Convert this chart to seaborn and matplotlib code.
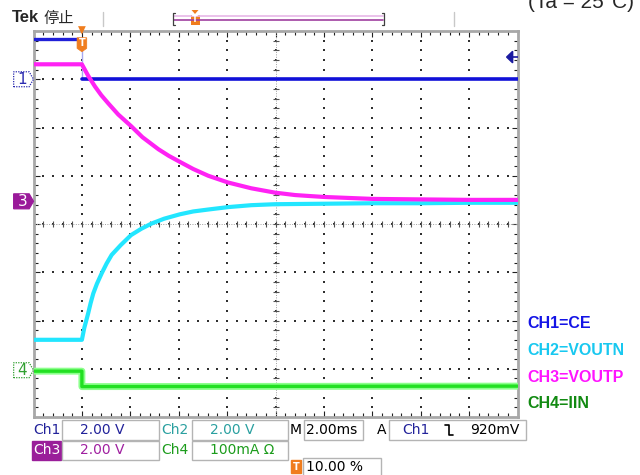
import numpy as np
import matplotlib.pyplot as plt
import seaborn as sns
from matplotlib.patches import Polygon, Rectangle
from matplotlib.lines import Line2D

# Screen is 10 x 8 divisions, 2 ms/div, trigger at 10 % -> time axis -2..18 ms
# Levels are read in screen divisions (0 = bottom edge, 8 = top edge)
ch1_time = [-2.0, 0.0, 0.0, 18.0]
ch1_level = [7.84, 7.84, 7.00, 7.00]

ch2_time = [-2.0, 0.0, 0.1, 0.26, 0.36, 0.47, 0.62, 0.82, 1.02, 1.23, 1.6, 2.03,
            2.45, 2.88, 3.4, 4.04, 4.6, 5.22, 6.04, 7.0, 7.98, 10.0, 12.0, 14.0,
            16.0, 18.0]
ch2_level = [1.60, 1.60, 1.85, 2.15, 2.36, 2.56, 2.76, 2.98, 3.18, 3.36, 3.56, 3.77,
             3.90, 4.01, 4.11, 4.20, 4.26, 4.30, 4.35, 4.39, 4.41, 4.42, 4.43, 4.43,
             4.44, 4.44]

ch3_time = [-2.0, 0.0, 0.25, 0.54, 0.8, 1.09, 1.5, 2.03, 2.5, 3.16, 3.6, 4.04,
            4.6, 5.22, 6.04, 7.0, 7.98, 8.81, 9.4, 10.02, 12.02, 14.01, 16.01, 18.0]
ch3_level = [7.31, 7.31, 7.08, 6.85, 6.67, 6.50, 6.27, 6.03, 5.80, 5.55, 5.41, 5.29,
             5.14, 5.00, 4.86, 4.74, 4.65, 4.60, 4.58, 4.56, 4.52, 4.51, 4.50, 4.50]

ch4_time = [-2.0, 0.0, 0.0, 18.0]
ch4_level = [0.95, 0.95, 0.63, 0.64]

ground_labels = ['1', '3', '4']
ground_levels = [7.00, 4.47, 0.97]
trigger_time = 0.0
trigger_level = 7.46

legend_labels = ['CH1=CE', 'CH2=VOUTN', 'CH3=VOUTP', 'CH4=IIN']
legend_colors = ['#1414e6', '#18c8f0', '#ff14ff', '#128a12']

sns.set_style('white')
plt.rcParams['font.family'] = ['DejaVu Sans', 'Noto Sans CJK SC']

W, H = 640, 475
fig = plt.figure(figsize=(6.4, 4.75), dpi=100)


def fx(px):
    return px / W


def fy(py):
    return 1 - py / H


ax = fig.add_axes([fx(33.5), fy(417), 484 / W, 386 / H])
ax.set_xlim(-2, 18)
ax.set_ylim(0, 8)
ax.set_xticks(np.arange(-2, 18.1, 2))
ax.set_yticks(np.arange(0, 8.1, 1))
ax.set_xticks(np.arange(-2, 18.1, 0.4), minor=True)
ax.set_yticks(np.arange(0, 8.1, 0.2), minor=True)
ax.tick_params(which='both', direction='in', top=True, right=True, bottom=True, left=True,
               labelbottom=False, labelleft=False, color='#202020', width=0.8)
ax.tick_params(which='major', length=4)
ax.tick_params(which='minor', length=3)
for s in ax.spines.values():
    s.set_color('#a8a8a8')
    s.set_linewidth(2)

# graticule: dots every 0.2 div on each division line
gx, gy = np.meshgrid(np.arange(0, 16.1, 2), np.arange(0.2, 8, 0.2))
ax.scatter(gx.ravel(), gy.ravel(), s=1.2, color='#303030', marker='s', linewidths=0, zorder=1)
gx, gy = np.meshgrid(np.arange(-1.6, 18, 0.4), np.arange(1, 7.1, 1))
ax.scatter(gx.ravel(), gy.ravel(), s=1.2, color='#303030', marker='s', linewidths=0, zorder=1)
# centre lines with small ticks
ax.axvline(8, color='#a0a0a0', lw=0.7, ls=(0, (1, 1.5)), zorder=1)
ax.axhline(4, color='#a0a0a0', lw=0.7, ls=(0, (1, 1.5)), zorder=1)
ty = np.arange(0.2, 8, 0.2)
ax.scatter(np.full_like(ty, 8), ty, marker='_', s=14, color='#505050', linewidths=0.8, zorder=1)
tx = np.arange(-1.6, 18, 0.4)
ax.scatter(tx, np.full_like(tx, 4), marker='|', s=14, color='#505050', linewidths=0.8, zorder=1)

# traces
sns.lineplot(x=ch1_time[:2], y=ch1_level[:2], ax=ax, color='#2020d8', lw=2.4, zorder=5)
sns.lineplot(x=ch1_time[1:3], y=ch1_level[1:3], ax=ax, color='#a8a8f0', lw=1, zorder=4,
             sort=False, estimator=None)
sns.lineplot(x=ch1_time[2:], y=ch1_level[2:], ax=ax, color='#1010d8', lw=2.6, zorder=5)
sns.lineplot(x=ch4_time, y=ch4_level, ax=ax, color='#8cff8c', lw=5, zorder=4,
             sort=False, estimator=None)
sns.lineplot(x=ch4_time, y=ch4_level, ax=ax, color='#22e022', lw=2.4, zorder=5,
             sort=False, estimator=None)
sns.lineplot(x=ch2_time, y=ch2_level, ax=ax, color='#22e6ff', lw=3, zorder=5,
             sort=False, estimator=None)
sns.lineplot(x=ch3_time, y=ch3_level, ax=ax, color='#ff22f4', lw=3, zorder=6,
             sort=False, estimator=None)
ax.set_xlabel('')
ax.set_ylabel('')

# channel ground markers on the left edge
marker_style = {
    '1': dict(face='white', edge='#2a2ab0', text='#2a2ab0'),
    '3': dict(face='#9a1a9a', edge='#9a1a9a', text='white'),
    '4': dict(face='white', edge='#30a030', text='#30a030'),
}
for lab, g in zip(ground_labels, ground_levels):
    st = marker_style[lab]
    pts = [(-2.82, g - 0.155), (-2.18, g - 0.155), (-2.0, g), (-2.18, g + 0.155), (-2.82, g + 0.155)]
    ax.add_patch(Polygon(pts, closed=True, facecolor=st['face'], edgecolor=st['edge'],
                         lw=0.9, ls=(0, (1, 1)) if st['face'] == 'white' else '-',
                         clip_on=False, zorder=7))
    ax.text(-2.46, g, lab, color=st['text'], fontsize=11, ha='center', va='center',
            clip_on=False, zorder=8)

# trigger position marker on top
ax.add_patch(Polygon([(trigger_time - 0.2, 7.86), (trigger_time + 0.2, 7.86),
                      (trigger_time + 0.2, 7.64), (trigger_time, 7.57), (trigger_time - 0.2, 7.64)],
                     closed=True, facecolor='#f07d1e', edgecolor='#f07d1e', lw=0.5, zorder=9))
ax.text(trigger_time, 7.76, 'T', color='white', fontsize=7, fontweight='bold',
        ha='center', va='center', zorder=10)
ax.add_patch(Polygon([(trigger_time - 0.16, 8.1), (trigger_time + 0.16, 8.1), (trigger_time, 7.93)],
                     closed=True, facecolor='#f07d1e', edgecolor='none', clip_on=False, zorder=9))

# trigger level arrow on the right
ax.add_patch(Polygon([(17.55, trigger_level), (17.8, trigger_level + 0.12), (17.8, trigger_level - 0.12)],
                     closed=True, facecolor='#1a1aa0', edgecolor='#1a1aa0', zorder=9))
ax.plot([17.8, 18.0], [trigger_level, trigger_level], color='#1a1aa0', lw=1.2, zorder=9)

# header
fig.text(fx(12), fy(18), 'Tek', fontsize=12, fontweight='bold', family='Liberation Sans',
         va='center')
fig.text(fx(43), fy(18), '停止', fontsize=11, family='Noto Sans CJK SC', va='center')
for xp in [103, 454]:
    fig.add_artist(Line2D([fx(xp), fx(xp)], [fy(12), fy(26)], color='#c8c8c8', lw=1))
fig.add_artist(Line2D([fx(174), fx(383)], [fy(16), fy(16)], color='#e8b8e8', lw=1.2))
fig.add_artist(Line2D([fx(174), fx(383)], [fy(19.5), fy(19.5)], color='#a040a0', lw=1.2))
for xp, d in [(173, 2), (384, -2)]:
    fig.add_artist(Line2D([fx(xp + d), fx(xp), fx(xp), fx(xp + d)],
                          [fy(13), fy(13), fy(25), fy(25)], color='#404040', lw=0.9))
fig.add_artist(Rectangle((fx(190.5), fy(25)), 9 / W, 10 / H, transform=fig.transFigure,
                         facecolor='#f07d1e', edgecolor='none'))
fig.text(fx(195), fy(20), 'T', color='white', fontsize=6, fontweight='bold', ha='center', va='center')
fig.add_artist(Polygon([(fx(191.5), fy(10)), (fx(198.5), fy(10)), (fx(195), fy(14))], closed=True,
                       transform=fig.transFigure, facecolor='#f07d1e', edgecolor='none'))
# the reference image itself cuts this note at the top edge
fig.text(fx(528), fy(2), '(Ta = 25°C)', fontsize=15, family='Liberation Sans', va='center')

# legend text on the right
for i, (lab, col) in enumerate(zip(legend_labels, legend_colors)):
    fig.text(fx(527), fy(324 + 26.5 * i), lab, color=col, fontsize=11.5, fontweight='bold',
             family='Liberation Sans', va='center')


# bottom readout panel
def box(x0, x1, y0, y1, face='white', edge='#b4b4b4'):
    fig.add_artist(Rectangle((fx(x0), fy(y1)), (x1 - x0) / W, (y1 - y0) / H,
                             transform=fig.transFigure, facecolor=face, edgecolor=edge, lw=1))


fs = 10
box(62, 159, 420, 440)
box(192, 288, 420, 440)
box(304, 363, 420, 440)
box(389, 526, 420, 440)
fig.text(fx(33), fy(430), 'Ch1', color='#22229a', fontsize=fs, va='center')
fig.text(fx(80), fy(430), '2.00 V', color='#22229a', fontsize=fs, va='center')
fig.text(fx(161), fy(430), 'Ch2', color='#2aa0a0', fontsize=fs, va='center')
fig.text(fx(210), fy(430), '2.00 V', color='#2aa0a0', fontsize=fs, va='center')
fig.text(fx(290), fy(430), 'M', color='black', fontsize=fs, va='center')
fig.text(fx(306), fy(430), '2.00ms', color='black', fontsize=fs, va='center')
fig.text(fx(377), fy(430), 'A', color='black', fontsize=fs, va='center')
fig.text(fx(402), fy(430), 'Ch1', color='#22229a', fontsize=fs, va='center')
fig.add_artist(Line2D([fx(445), fx(449), fx(449), fx(453)], [fy(425), fy(425), fy(435), fy(435)],
                      color='black', lw=1.2))
fig.text(fx(470), fy(430), '920mV', color='black', fontsize=fs, va='center')

box(32, 61, 441, 460, face='#9a1e9a', edge='#9a1e9a')
box(62, 159, 441, 460)
box(192, 288, 441, 460)
fig.text(fx(33), fy(450.5), 'Ch3', color='white', fontsize=fs, va='center')
fig.text(fx(80), fy(450.5), '2.00 V', color='#a020a0', fontsize=fs, va='center')
fig.text(fx(161), fy(450.5), 'Ch4', color='#1c9c1c', fontsize=fs, va='center')
fig.text(fx(210), fy(450.5), '100mA Ω', color='#1c9c1c', fontsize=fs, va='center')

box(291, 301, 460, 473, face='#f07d1e', edge='#f07d1e')
fig.text(fx(296), fy(466.5), 'T', color='white', fontsize=7, fontweight='bold', ha='center', va='center')
box(303, 381, 458, 476)
fig.text(fx(306), fy(467), '10.00 %', color='black', fontsize=fs, va='center')

fig.savefig('out.png', dpi=100)
